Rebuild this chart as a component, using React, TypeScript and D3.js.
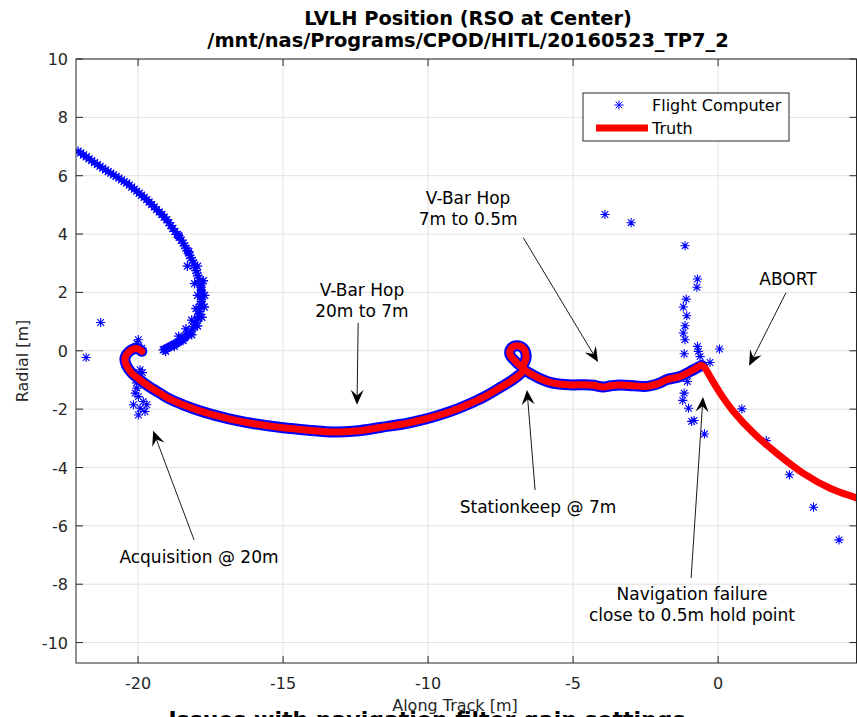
import React from 'react';
import * as d3 from 'd3';

const W = 857;
const H = 717;

const xTicks = [-20, -15, -10, -5, 0];
const yTicks = [-10, -8, -6, -4, -2, 0, 2, 4, 6, 8, 10];
const xDomain: [number, number] = [-22.14, 4.79];
const yDomain: [number, number] = [-10.7, 10];

const titleLines = ['LVLH Position (RSO at Center)', '/mnt/nas/Programs/CPOD/HITL/20160523_TP7_2'];
const xLabel = 'Along Track [m]';
const yLabel = 'Radial [m]';
const footText = 'Issues with navigation filter gain settings';
const legendLabels = ['Flight Computer', 'Truth'];

// Truth trajectory (x = along track, y = radial)
const truth: [number, number][] = [
  [-19.87, -0.02], [-20.05, 0.08], [-20.3, -0.02], [-20.45, -0.25], [-20.4, -0.5], [-20.2, -0.78],
  [-19.95, -0.98], [-19.7, -1.17], [-19.25, -1.45], [-18.9, -1.66], [-18.45, -1.85], [-17.8, -2.08],
  [-17.2, -2.25], [-16.7, -2.37], [-16.0, -2.5], [-15.0, -2.64], [-14.0, -2.73], [-13.3, -2.78],
  [-12.5, -2.75], [-11.6, -2.62], [-10.7, -2.48], [-9.8, -2.26], [-9.2, -2.07], [-8.65, -1.85],
  [-8.1, -1.6], [-7.5, -1.25], [-6.95, -0.9], [-6.72, -0.65], [-6.95, -0.4], [-7.18, -0.12],
  [-7.12, 0.1], [-6.9, 0.17], [-6.68, 0.04], [-6.62, -0.24], [-6.72, -0.58], [-6.4, -0.82],
  [-5.9, -1.05], [-5.5, -1.14], [-5.0, -1.17], [-4.6, -1.16], [-4.3, -1.18], [-3.97, -1.24],
  [-3.7, -1.2], [-3.38, -1.17], [-2.9, -1.2], [-2.46, -1.22], [-2.0, -1.1], [-1.77, -0.99],
  [-1.31, -0.88], [-0.85, -0.65], [-0.56, -0.5], [-0.45, -0.6], [-0.28, -0.88], [0.07, -1.45],
  [0.53, -2.08], [1.22, -2.82], [2.02, -3.51], [2.94, -4.2], [3.86, -4.71], [4.79, -5.05], [5.5, -5.3],
];

// Flight computer estimates following the truth track
const fcTrack: [number, number][] = [
  [-19.87, -0.02], [-20.05, 0.08], [-20.3, -0.02], [-20.45, -0.25], [-20.4, -0.5], [-20.2, -0.78],
  [-19.95, -0.98], [-19.7, -1.17], [-19.25, -1.45], [-18.9, -1.66], [-18.45, -1.85], [-17.8, -2.08],
  [-17.2, -2.25], [-16.7, -2.37], [-16.0, -2.5], [-15.0, -2.64], [-14.0, -2.73], [-13.3, -2.78],
  [-12.5, -2.75], [-11.6, -2.62], [-10.7, -2.48], [-9.8, -2.26], [-9.2, -2.07], [-8.65, -1.85],
  [-8.1, -1.6], [-7.5, -1.25], [-6.95, -0.9], [-6.72, -0.65], [-6.95, -0.4], [-7.18, -0.12],
  [-7.12, 0.1], [-6.9, 0.17], [-6.68, 0.04], [-6.62, -0.24], [-6.72, -0.58], [-6.4, -0.82],
  [-5.9, -1.05], [-5.5, -1.14], [-5.0, -1.17], [-4.6, -1.16], [-4.3, -1.18], [-3.97, -1.24],
  [-3.7, -1.2], [-3.38, -1.17], [-2.9, -1.2], [-2.46, -1.22], [-2.0, -1.1], [-1.77, -0.99],
  [-1.31, -0.88], [-0.85, -0.65], [-0.56, -0.5],
];

// Flight computer estimates on the initial arc
const fcArc: [number, number][] = [
  [-22.07, 6.84], [-21.98, 6.78], [-21.88, 6.71], [-21.79, 6.65], [-21.69, 6.58], [-21.6, 6.52],
  [-21.5, 6.45], [-21.4, 6.38], [-21.31, 6.32], [-21.22, 6.26], [-21.12, 6.2], [-21.03, 6.14],
  [-20.94, 6.09], [-20.85, 6.03], [-20.76, 5.98], [-20.66, 5.92], [-20.57, 5.86], [-20.48, 5.8],
  [-20.39, 5.75], [-20.3, 5.68], [-20.22, 5.61], [-20.13, 5.54], [-20.05, 5.47], [-19.96, 5.4],
  [-19.88, 5.33], [-19.79, 5.26], [-19.7, 5.18], [-19.62, 5.1], [-19.53, 5.01], [-19.44, 4.93],
  [-19.36, 4.84], [-19.27, 4.76], [-19.18, 4.67], [-19.1, 4.58], [-19.01, 4.49], [-18.94, 4.39],
  [-18.87, 4.29], [-18.8, 4.19], [-18.73, 4.09], [-18.65, 3.99], [-18.58, 3.89], [-18.51, 3.79],
  [-18.44, 3.69], [-18.39, 3.6], [-18.35, 3.52], [-18.3, 3.43], [-18.26, 3.35], [-18.22, 3.26],
  [-18.18, 3.18], [-18.13, 3.1], [-18.09, 3.01], [-18.06, 2.92], [-18.03, 2.84], [-18.0, 2.75],
  [-17.97, 2.66], [-17.94, 2.58], [-17.91, 2.49], [-17.88, 2.4], [-17.86, 2.32], [-17.84, 2.24],
  [-17.83, 2.17], [-17.82, 2.09], [-17.81, 2.01], [-17.8, 1.93], [-17.8, 1.86], [-17.81, 1.77],
  [-17.82, 1.69], [-17.83, 1.6], [-17.85, 1.52], [-17.86, 1.43], [-17.88, 1.35], [-17.9, 1.26],
  [-17.92, 1.18], [-17.95, 1.11], [-17.98, 1.04], [-18.01, 0.97], [-18.05, 0.9], [-18.09, 0.82],
  [-18.13, 0.75], [-18.17, 0.68], [-18.21, 0.61], [-18.27, 0.56], [-18.32, 0.52], [-18.38, 0.47],
  [-18.44, 0.43], [-18.5, 0.38], [-18.55, 0.34], [-18.61, 0.3], [-18.67, 0.26], [-18.73, 0.23],
  [-18.79, 0.2], [-18.85, 0.17], [-18.9, 0.14], [-18.96, 0.11], [-19.02, 0.08], [-19.08, 0.05],
  [-19.13, 0.03],
  [-18.6, 3.95], [-18.25, 3.4], [-17.95, 2.9], [-17.75, 2.4], [-17.7, 1.9], [-17.72, 1.5],
  [-17.8, 1.15], [-17.95, 0.85], [-18.15, 0.55], [-18.45, 0.35], [-18.75, 0.15], [-19.05, -0.02],
  [-18.3, 2.9], [-18.05, 2.3], [-17.95, 1.9], [-18.0, 1.45], [-18.15, 1.05], [-18.35, 0.75],
  [-18.6, 0.5],
];

// Scattered flight computer outliers
const fcScatter: [number, number][] = [
  [-21.29, 0.97], [-21.79, -0.23],
  [-20.04, 0.26], [-19.99, 0.38], [-19.87, 0.09], [-19.93, -0.65], [-19.85, -0.75], [-20.04, -1.28],
  [-19.99, -1.57], [-19.82, -1.74], [-19.93, -1.97], [-19.99, -2.2], [-19.7, -1.85], [-20.1, -1.45],
  [-19.76, -2.08], [-20.16, -1.85], [-20.05, -1.1],
  [-3.9, 4.67], [-3.0, 4.39],
  [-1.14, 3.6], [-0.71, 2.46], [-0.73, 2.18], [-1.1, 1.77], [-1.2, 1.5], [-1.08, 1.2], [-1.14, 0.86],
  [-1.2, 0.61], [-1.14, 0.38], [-0.71, 0.15], [-0.68, -0.02], [-1.17, -0.1], [-0.62, -0.2], [0.05, 0.06],
  [-0.28, -0.4], [-1.06, -1.05], [-1.17, -1.45], [-1.22, -1.7], [-1.02, -1.97], [-0.91, -2.42],
  [-0.83, -2.39], [-0.47, -2.85], [0.82, -1.99], [1.66, -3.08], [2.46, -4.25], [3.29, -5.36], [4.17, -6.48],
];

type Note = { lines: string[]; at: [number, number]; from: [number, number]; to: [number, number] };
const notes: Note[] = [
  { lines: ['V-Bar Hop', '7m to 0.5m'], at: [-8.62, 5.25], from: [-6.72, 3.88], to: [-4.14, -0.38] },
  { lines: ['V-Bar Hop', '20m to 7m'], at: [-12.28, 2.09], from: [-12.41, 0.96], to: [-12.45, -1.85] },
  { lines: ['ABORT'], at: [2.41, 2.47], from: [2.34, 1.99], to: [1.07, -0.51] },
  { lines: ['Stationkeep @ 7m'], at: [-6.21, -5.35], from: [-6.31, -4.77], to: [-6.59, -1.34] },
  { lines: ['Acquisition @ 20m'], at: [-17.9, -7.07], from: [-18.07, -6.48], to: [-19.48, -2.74] },
  { lines: ['Navigation failure', 'close to 0.5m hold point'], at: [-0.9, -8.34], from: [-0.93, -7.79], to: [-0.52, -1.58] },
];

const FONT = "'DejaVu Sans', sans-serif";
const AX = '#262626';

function star(cx: number, cy: number, r: number) {
  const d = r * 0.72;
  return `M${cx - r},${cy}L${cx + r},${cy}M${cx},${cy - r}L${cx},${cy + r}` +
    `M${cx - d},${cy - d}L${cx + d},${cy + d}M${cx - d},${cy + d}L${cx + d},${cy - d}`;
}

export default function App() {
  const L = 76, R = 857, T = 59, B = 663;
  const x = d3.scaleLinear().domain(xDomain).range([L, R]);
  const y = d3.scaleLinear().domain(yDomain).range([B, T]);
  const line = d3.line<[number, number]>().x(d => x(d[0])).y(d => y(d[1])).curve(d3.curveCatmullRom.alpha(0.5));

  const arcStars = fcArc.map(p => star(x(p[0]), y(p[1]), 4.8)).join('');
  const otherStars = [...fcTrack, ...fcScatter].map(p => star(x(p[0]), y(p[1]), 4.6)).join('');

  const arrow = (n: Note, i: number) => {
    const x0 = x(n.from[0]), y0 = y(n.from[1]);
    const x1 = x(n.to[0]), y1 = y(n.to[1]);
    const dx = x1 - x0, dy = y1 - y0;
    const len = Math.hypot(dx, dy);
    const ux = dx / len, uy = dy / len;
    const px = -uy, py = ux;
    const hl = 15, hw = 6.5;
    const bx = x1 - ux * hl, by = y1 - uy * hl;
    const nx = x1 - ux * hl * 0.62, ny = y1 - uy * hl * 0.62;
    const head = `M${x1},${y1}L${bx + px * hw},${by + py * hw}L${nx},${ny}L${bx - px * hw},${by - py * hw}Z`;
    const tx = x(n.at[0]), ty = y(n.at[1]);
    return (
      <g key={i}>
        <line x1={x0} y1={y0} x2={nx} y2={ny} stroke="#000" strokeWidth={0.9} />
        <path d={head} fill="#000" />
        {n.lines.map((s, k) => (
          <text key={k} x={tx} y={ty + 6 + k * 21} textAnchor="middle" fontSize={17} fontFamily={FONT} fill="#000">{s}</text>
        ))}
      </g>
    );
  };

  return (
    <svg width={W} height={H} style={{ position: 'absolute', left: 0, top: 0, background: '#fff' }}>
      <defs>
        <clipPath id="plotclip"><rect x={L} y={T} width={R - L} height={B - T} /></clipPath>
      </defs>
      <rect x={0} y={0} width={W} height={H} fill="#fff" />
      {/* caption cut off at bottom (drawn first, partly under the x label) */}
      <text x={427} y={727} textAnchor="middle" fontFamily={FONT} fontWeight="bold" fontSize={22} fill="#000">{footText}</text>
      {/* grid */}
      <g stroke="#e1e1e1" strokeWidth={1}>
        {xTicks.map(t => <line key={'gx' + t} x1={x(t)} x2={x(t)} y1={T} y2={B} />)}
        {yTicks.map(t => <line key={'gy' + t} x1={L} x2={R} y1={y(t)} y2={y(t)} />)}
      </g>
      {/* data */}
      <g clipPath="url(#plotclip)">
        <path d={line(fcTrack) || ''} fill="none" stroke="#0000ff" strokeWidth={11} strokeLinejoin="round" strokeLinecap="round" />
        <path d={arcStars} fill="none" stroke="#0000ff" strokeWidth={1.3} />
        <path d={otherStars} fill="none" stroke="#0000ff" strokeWidth={1.1} />
        <path d={line(truth) || ''} fill="none" stroke="#ff0000" strokeWidth={7} strokeLinejoin="round" strokeLinecap="round" />
      </g>
      {/* axes box and ticks */}
      <g stroke={AX} strokeWidth={1} fill="none">
        <rect x={L} y={T} width={R - L - 0.5} height={B - T} />
        {xTicks.map(t => (
          <g key={'tx' + t}>
            <line x1={x(t)} x2={x(t)} y1={B} y2={B - 7} />
            <line x1={x(t)} x2={x(t)} y1={T} y2={T + 7} />
          </g>
        ))}
        {yTicks.map(t => (
          <g key={'ty' + t}>
            <line x1={L} x2={L + 7} y1={y(t)} y2={y(t)} />
            <line x1={R - 0.5} x2={R - 7.5} y1={y(t)} y2={y(t)} />
          </g>
        ))}
      </g>
      <g fontFamily={FONT} fontSize={16} fill={AX}>
        {xTicks.map(t => (
          <text key={'lx' + t} x={x(t)} y={689} textAnchor="middle">{t < 0 ? '-' + Math.abs(t) : String(t)}</text>
        ))}
        {yTicks.map(t => (
          <text key={'ly' + t} x={68} y={y(t) + 6} textAnchor="end">{t < 0 ? '-' + Math.abs(t) : String(t)}</text>
        ))}
        <text x={455} y={711} textAnchor="middle">{xLabel}</text>
        <text transform="translate(28,361) rotate(-90)" textAnchor="middle">{yLabel}</text>
      </g>
      {/* title */}
      <g fontFamily={FONT} fontWeight="bold" fontSize={19.4} fill="#000" textAnchor="middle">
        <text x={468} y={25}>{titleLines[0]}</text>
        <text x={468} y={47}>{titleLines[1]}</text>
      </g>
      {/* annotations */}
      {notes.map(arrow)}
      {/* legend */}
      <g>
        <rect x={583} y={93} width={206} height={48} fill="#fff" stroke={AX} strokeWidth={1} />
        <path d={star(619, 105, 4.6)} stroke="#0000ff" strokeWidth={1} fill="none" />
        <line x1={596} x2={648} y1={128} y2={128} stroke="#ff0000" strokeWidth={7} />
        <text x={652} y={111} fontFamily={FONT} fontSize={16} fill="#000">{legendLabels[0]}</text>
        <text x={652} y={134} fontFamily={FONT} fontSize={16} fill="#000">{legendLabels[1]}</text>
      </g>
    </svg>
  );
}
